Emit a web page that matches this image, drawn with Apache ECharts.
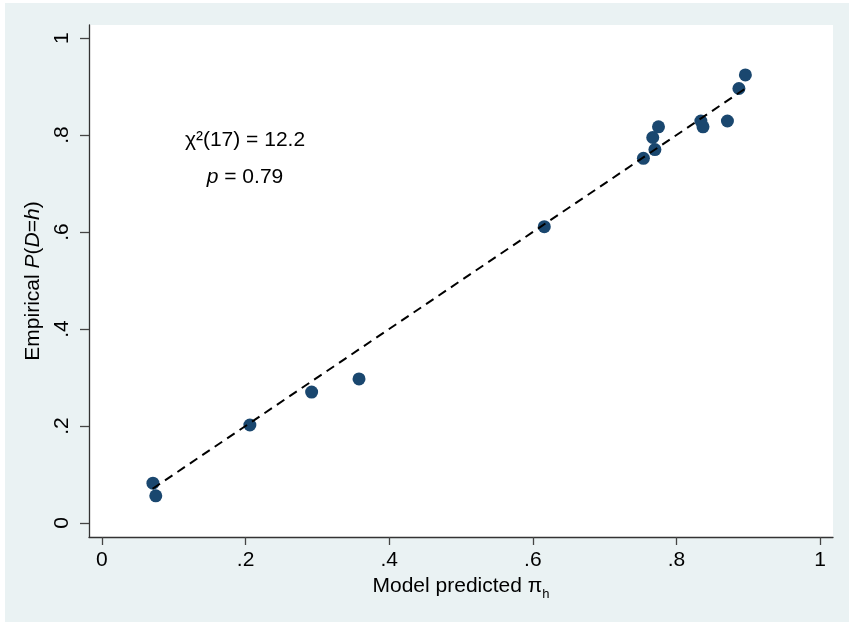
<!DOCTYPE html>
<html><head><meta charset="utf-8">
<script src="https://cdn.jsdelivr.net/npm/echarts@6/dist/echarts.min.js"></script>
<style>
html,body{margin:0;padding:0;background:#fff;}
#bg{position:absolute;left:5px;top:3px;width:844px;height:619px;background:#EAF2F3;}
#chart{position:absolute;left:0;top:0;width:849px;height:622px;}
</style></head><body>
<div id="bg"></div><div id="chart"></div>
<script>
const predicted = [0.071, 0.075, 0.206, 0.292, 0.358, 0.616, 0.754, 0.770, 0.767, 0.775, 0.834, 0.837, 0.871, 0.887, 0.896];
const empirical = [0.082, 0.056, 0.202, 0.270, 0.297, 0.611, 0.752, 0.770, 0.795, 0.817, 0.829, 0.817, 0.829, 0.896, 0.924];
const refLineX = [0.0705, 0.896];
const xTicks = [0, 0.2, 0.4, 0.6, 0.8, 1];
const yTicks = [0, 0.2, 0.4, 0.6, 0.8, 1];
const tickLabels = ['0', '.2', '.4', '.6', '.8', '1'];
const annotation1 = 'χ²(17) = 12.2';
const annotation2 = '{i|p} = 0.79';

const FONT = "'Liberation Sans', Arial, sans-serif";
function fmt(v) {
  const i = xTicks.findIndex(t => Math.abs(t - v) < 1e-9);
  return i >= 0 ? tickLabels[i] : '';
}
const chart = echarts.init(document.getElementById('chart'));
const pts = predicted.map((x, i) => [x, empirical[i]]);
chart.setOption({
  animation: false,
  backgroundColor: 'transparent',
  grid: { left: 89, right: 16, top: 25, bottom: 85, show: true, backgroundColor: '#fff', borderWidth: 0 },
  xAxis: {
    type: 'value', min: -0.018, max: 1.018,
    axisLine: { show: true, onZero: false, lineStyle: { color: '#333', width: 1.3 } },
    axisTick: { show: true, customValues: xTicks, length: 8, lineStyle: { color: '#444', width: 1.3 } },
    axisLabel: { customValues: xTicks, formatter: fmt, fontSize: 21, color: '#000', margin: 13, fontFamily: FONT },
    splitLine: { show: false },
    name: '{n|Model predicted π}{s|h}', nameLocation: 'middle', nameGap: 31,
    nameTextStyle: { fontFamily: FONT, color: '#000', fontSize: 21,
      rich: { n: { fontSize: 21, fontFamily: FONT, color: '#000', verticalAlign: 'top', lineHeight: 24 },
              s: { fontSize: 13, fontFamily: FONT, color: '#000', verticalAlign: 'top', lineHeight: 13, padding: [12, 0, 0, 0] } } }
  },
  yAxis: {
    type: 'value', min: -0.029, max: 1.027,
    axisLine: { show: true, onZero: false, lineStyle: { color: '#333', width: 1.3 } },
    axisTick: { show: true, customValues: yTicks, length: 9, lineStyle: { color: '#444', width: 1.3 } },
    axisLabel: { customValues: yTicks, formatter: fmt, fontSize: 21, color: '#000', margin: 16, rotate: 90, fontFamily: FONT },
    splitLine: { show: false },
    name: 'Empirical {i|P}({i|D}={i|h})', nameLocation: 'middle', nameGap: 28,
    nameTextStyle: { fontFamily: FONT, color: '#000', fontSize: 21,
      rich: { i: { fontStyle: 'italic', fontSize: 21, fontFamily: FONT, color: '#000' } } }
  },
  graphic: [
    { type: 'text', x: 245, y: 140, z: 10, style: { text: annotation1, font: '21px ' + FONT, fill: '#000', align: 'center', verticalAlign: 'middle' } },
    { type: 'text', x: 245, y: 177, z: 10, style: { text: annotation2, font: '21px ' + FONT, fill: '#000', align: 'center', verticalAlign: 'middle',
        rich: { i: { fontStyle: 'italic', fontSize: 21, fontFamily: FONT, fill: '#000' } } } }
  ],
  series: [
    { type: 'scatter', data: pts, symbol: 'circle', symbolSize: 13, itemStyle: { color: '#1a476f', opacity: 1 }, z: 2 },
    { type: 'line', data: refLineX.map(v => [v, v]), symbol: 'none', z: 3,
      lineStyle: { color: '#000', width: 2, type: [9, 6] } }
  ]
});
</script></body></html>
